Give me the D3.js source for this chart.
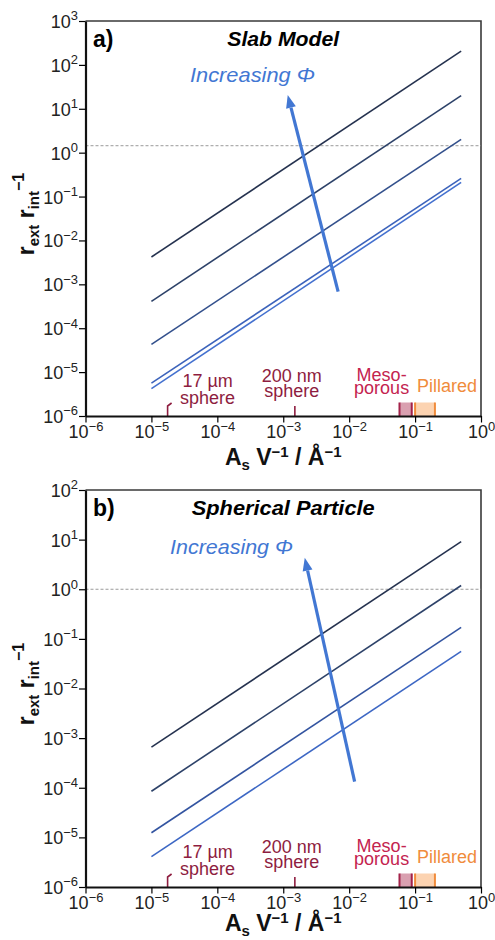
<!DOCTYPE html>
<html>
<head>
<meta charset="utf-8">
<script src="https://cdn.jsdelivr.net/npm/d3@7"></script>
<style>
 body { margin: 0; background: #fff; }
 text { font-family: "Liberation Sans", Arial, sans-serif; }
</style>
</head>
<body>
<div id="chart"></div>
<script>
// values (lines are straight on log-log, so two ends each)
const xEnds = [1e-5, 0.5];
const slabLines = [[4.2e-3, 205], [4.1e-4, 20], [4.3e-5, 2.0], [5.6e-6, 0.26], [4.2e-6, 0.21]];
const sphereLines = [[6.6e-4, 9.1], [8.5e-5, 1.19], [1.24e-5, 0.17], [4.1e-6, 0.056]];
const slabArrow = [[6.8e-3, 6.8e-4], [1.17e-3, 20.6]];
const sphereArrow = [[1.21e-2, 1.33e-4], [2.12e-3, 4.3]];
const slabRef = 1.44;
const sphereRef = 1;
const xExps = [-6, -5, -4, -3, -2, -1, 0];
const slabYExps = [-6, -5, -4, -3, -2, -1, 0, 1, 2, 3];
const sphereYExps = [-6, -5, -4, -3, -2, -1, 0, 1, 2];
const particles = [
 { name: ["17 µm", "sphere"], x: 1.76e-5 },
 { name: ["200 nm", "sphere"], x: 1.5e-3 }
];
const mesoRange = [0.058, 0.089];
const pillarRange = [0.1, 0.2];

const slabColors = ["#25324f", "#2d4269", "#33508c", "#3c63bb", "#4471cf"];
const sphereColors = ["#25324f", "#2d4269", "#3354a0", "#3d67c4"];
const blue = "#4277d3";
const darkRed = "#8e1d40";
const crimson = "#c4234f";
const orange = "#f08c3c";

const W = 495, H = 940;
const svg = d3.select("#chart").append("svg")
 .attr("width", W).attr("height", H)
 .attr("viewBox", `0 0 ${W} ${H}`);
svg.append("rect").attr("width", W).attr("height", H).attr("fill", "#fff");

const x = d3.scaleLog().domain([1e-6, 1]).range([85.5, 481]);

const minors = (lo, hi) => {
 const out = [];
 for (let e = lo; e < hi; e++) for (let m = 2; m <= 9; m++) out.push(m * 10 ** e);
 return out;
};

function powLabels(sel, fs) {
 sel.each(function (d) {
  const e = Math.round(Math.log10(d));
  const t = d3.select(this).text(null);
  t.append("tspan").text("10");
  t.append("tspan").attr("dy", -fs * 0.42).attr("font-size", fs * 0.72)
   .text(e < 0 ? "\u2212" + (-e) : e);
 });
}

// two-line label as one text element
function twoLines(sel, cx, y0, gap, lines, color) {
 const t = sel.append("text").attr("x", cx).attr("y", y0).attr("fill", color);
 t.append("tspan").attr("x", cx).text(lines[0]);
 t.append("tspan").attr("x", cx).attr("dy", gap).text(lines[1]);
}

function drawPanel(p) {
 const y = d3.scaleLog().domain([1e-6, 10 ** p.yExps[p.yExps.length - 1]]).range([p.bottom, p.top]);
 const g = svg.append("g");
 const x0 = x.range()[0], x1 = x.range()[1];

 // frame top / right
 g.append("path")
  .attr("d", `M${x0},${p.top}H${x1}V${p.bottom}`)
  .attr("fill", "none").attr("stroke", "#3a3a3a").attr("stroke-width", 1.6);

 // reference dashed line
 g.append("line")
  .attr("x1", x0).attr("x2", x1)
  .attr("y1", y(p.ref)).attr("y2", y(p.ref))
  .attr("stroke", "#9a9a9a").attr("stroke-width", 1).attr("stroke-dasharray", "3,2");

 // series lines
 const line = d3.line().x(d => x(d[0])).y(d => y(d[1]));
 p.lines.forEach((v, i) => {
  g.append("path")
   .attr("d", line(xEnds.map((xv, j) => [xv, v[j]])))
   .attr("fill", "none").attr("stroke", p.colors[i]).attr("stroke-width", 1.6);
 });

 // arrow
 const [a0, a1] = p.arrow;
 const sx = x(a0[0]), sy = y(a0[1]), tx = x(a1[0]), ty = y(a1[1]);
 const ang = Math.atan2(ty - sy, tx - sx);
 const hl = 13, hw = 5;
 const bx = tx - hl * Math.cos(ang), by = ty - hl * Math.sin(ang);
 g.append("line").attr("x1", sx).attr("y1", sy).attr("x2", bx).attr("y2", by)
  .attr("stroke", blue).attr("stroke-width", 3.2);
 g.append("path")
  .attr("d", `M${tx},${ty}L${bx + hw * Math.sin(ang)},${by - hw * Math.cos(ang)}L${bx - hw * Math.sin(ang)},${by + hw * Math.cos(ang)}Z`)
  .attr("fill", blue);

 g.append("text").attr("x", p.incX).attr("y", p.incY)
  .attr("font-size", 21).attr("font-style", "italic").attr("fill", blue)
  .attr("textLength", p.incW).attr("lengthAdjust", "spacingAndGlyphs")
  .text("Increasing \u03A6");

 // titles
 g.append("text").attr("x", 93).attr("y", p.top + 26)
  .attr("font-size", 23).attr("font-weight", "bold").text(p.letter);
 g.append("text").attr("x", (x0 + x1) / 2 - p.titleW / 2).attr("y", p.top + 25)
  .attr("font-size", 20).attr("textLength", p.titleW).attr("lengthAdjust", "spacingAndGlyphs")
  .attr("font-weight", "bold").attr("font-style", "italic").text(p.title);

 // annotations on the x axis
 const ay = p.bottom;
 const ann = g.append("g").attr("font-size", 18).attr("text-anchor", "middle");
 const [p17, p200] = particles;
 ann.append("path")
  .attr("d", `M${x(p17.x)},${ay}V${ay - 10}L${x(p17.x) + 4},${ay - 13}`)
  .attr("fill", "none").attr("stroke", darkRed).attr("stroke-width", 1.6);
 twoLines(ann, x(p17.x) + 40, ay - 29, 16.5, p17.name, darkRed);
 ann.append("line").attr("x1", x(p200.x)).attr("x2", x(p200.x))
  .attr("y1", ay).attr("y2", ay - 10).attr("stroke", darkRed).attr("stroke-width", 1.6);
 twoLines(ann, x(p200.x) - 3, ay - 34, 15, p200.name, darkRed);

 const band = (r, fill, edge) => {
  ann.append("rect").attr("x", x(r[0])).attr("y", ay - 13.5)
   .attr("width", x(r[1]) - x(r[0])).attr("height", 13.5).attr("fill", fill);
  r.forEach(v => ann.append("line").attr("x1", x(v)).attr("x2", x(v))
   .attr("y1", ay).attr("y2", ay - 13.5).attr("stroke", edge).attr("stroke-width", 2));
 };
 band(mesoRange, "#d9a0b0", "#a3224a");
 band(pillarRange, "#fcd3b1", orange);
 const mc = (x(mesoRange[0]) + x(mesoRange[1])) / 2;
 twoLines(ann, mc - 24, ay - 35, 13.3, ["Meso-", "porous"], crimson);
 ann.append("text").attr("x", (x(pillarRange[0]) + x(pillarRange[1])) / 2 + 22).attr("y", ay - 24.5)
  .attr("fill", orange).text("Pillared");

 // axes
 const fs = 18;
 const yAx = g.append("g").attr("transform", `translate(${x0},0)`);
 yAx.call(d3.axisLeft(y).tickValues(minors(-6, p.yExps[p.yExps.length - 1])).tickSize(3.5).tickFormat("").tickSizeOuter(0));
 yAx.call(d3.axisLeft(y).tickValues(p.yExps.map(e => 10 ** e)).tickSize(6.5).tickPadding(1).tickSizeOuter(0));
 yAx.selectAll(".tick text").filter(d => Math.abs(Math.log10(d) % 1) < 1e-9)
  .attr("font-size", fs).attr("fill", "#222").attr("dy", "0.36em").call(powLabels, fs);
 yAx.selectAll(".tick line").attr("stroke-width", 1.2);
 yAx.selectAll(".domain").attr("stroke-width", 2.2).attr("stroke", "#111");
 yAx.attr("font-family", null).attr("font-size", null);

 const xAx = g.append("g").attr("transform", `translate(0,${ay})`);
 xAx.call(d3.axisBottom(x).tickValues(minors(-6, 0)).tickSize(3.5).tickFormat("").tickSizeOuter(0));
 xAx.call(d3.axisBottom(x).tickValues(xExps.map(e => 10 ** e)).tickSize(6.5).tickPadding(3).tickSizeOuter(0));
 xAx.selectAll(".tick text").filter(d => Math.abs(Math.log10(d) % 1) < 1e-9)
  .attr("font-size", fs).attr("fill", "#222").attr("y", 9.5).attr("dy", "0.71em").call(powLabels, fs);
 xAx.selectAll(".tick line").attr("stroke-width", 1.2);
 xAx.selectAll(".domain").attr("stroke-width", 2.2).attr("stroke", "#111");
 xAx.attr("font-family", null).attr("font-size", null);

 // axis titles
 const yt = g.append("text").attr("transform", `translate(34,${p.ylabY}) rotate(-90)`)
  .attr("text-anchor", "middle").attr("font-size", 23).attr("font-weight", "bold").attr("fill", "#111");
 yt.append("tspan").text("r");
 yt.append("tspan").attr("font-size", 15).attr("dy", 5).text("ext");
 yt.append("tspan").attr("dy", -5).text(" r");
 yt.append("tspan").attr("font-size", 15).attr("dy", 5).text("int");
 yt.append("tspan").attr("font-size", 16).attr("dy", -15).text("\u22121");

 const xt = g.append("text").attr("x", (x0 + x1) / 2).attr("y", ay + p.xlabOff)
  .attr("text-anchor", "middle").attr("font-size", 23).attr("font-weight", "bold").attr("fill", "#111");
 xt.append("tspan").text("A");
 xt.append("tspan").attr("font-size", 15).attr("dy", 4.5).text("s");
 xt.append("tspan").attr("dy", -4.5).text(" V");
 xt.append("tspan").attr("font-size", 15).attr("dy", -8).text("\u22121");
 xt.append("tspan").attr("dy", 8).text(" / \u00C5");
 xt.append("tspan").attr("font-size", 15).attr("dy", -8).text("\u22121");
}

drawPanel({
 top: 21, bottom: 416, yExps: slabYExps, ref: slabRef,
 lines: slabLines, colors: slabColors, arrow: slabArrow,
 letter: "a)", title: "Slab Model", titleW: 112,
 incX: 190, incY: 82, incW: 125, ylabY: 214, xlabOff: 49
});
drawPanel({
 top: 490, bottom: 887, yExps: sphereYExps, ref: sphereRef,
 lines: sphereLines, colors: sphereColors, arrow: sphereArrow,
 letter: "b)", title: "Spherical Particle", titleW: 183,
 incX: 170, incY: 554, incW: 123, ylabY: 684, xlabOff: 44
});
</script>
</body>
</html>
